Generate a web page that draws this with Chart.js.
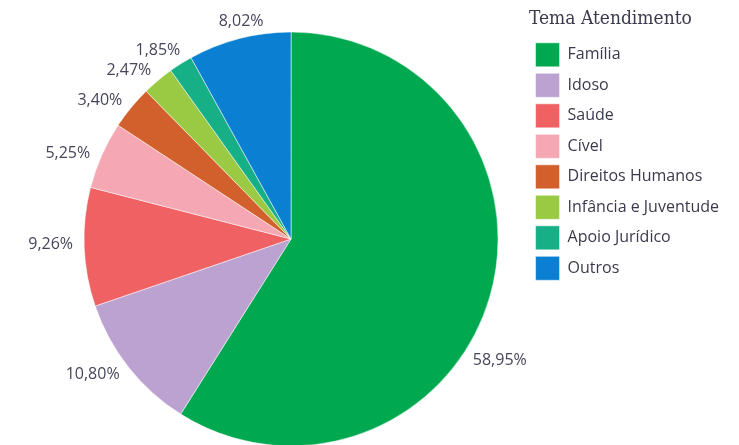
<!DOCTYPE html>
<html>
<head>
<meta charset="utf-8">
<script src="https://cdn.jsdelivr.net/npm/chart.js@4.4.1/dist/chart.umd.min.js"></script>
<style>
    html, body { margin: 0; padding: 0; background: #ffffff; overflow: hidden; }
    .chart_box { width: 739px; height: 473px; position: relative; }
</style>
</head>
<body>
<div class="chart_box"><canvas class="pie_canvas"></canvas></div>
<script>
const temas = ['Família', 'Idoso', 'Saúde', 'Cível', 'Direitos Humanos', 'Infância e Juventude', 'Apoio Jurídico', 'Outros'];
const percentuais = [58.95, 10.80, 9.26, 5.25, 3.40, 2.47, 1.85, 8.02];
const cores = ['#00A84F', '#BBA2D0', '#EF6163', '#F5A8B4', '#D2602C', '#9AC943', '#17B086', '#0B80D2'];

// rótulos de porcentagem fora das fatias
const rotulosPlugin = {
    id: 'rotulos',
    afterDatasetsDraw(chart, args, opts) {
        const ctx = chart.ctx;
        const meta = chart.getDatasetMeta(0);
        ctx.save();
        ctx.font = opts.font;
        ctx.fillStyle = opts.color;
        ctx.textAlign = 'center';
        ctx.textBaseline = 'middle';
        meta.data.forEach(function(arc, i) {
            const p = arc.getProps(['x', 'y', 'startAngle', 'endAngle', 'outerRadius'], true);
            const shift = (opts.shift[i] || 0) * Math.PI / 180;
            const ang = (p.startAngle + p.endAngle) / 2 + shift;
            const txt = percentuais[i].toFixed(2).replace('.', ',') + '%';
            const w = ctx.measureText(txt).width;
            const d = p.outerRadius + 11 + Math.abs(Math.cos(ang)) * w / 2;
            ctx.fillText(txt, p.x + Math.cos(ang) * d, p.y + Math.sin(ang) * d);
        });
        ctx.restore();
    }
};

const ctx = document.querySelector('.pie_canvas');
const pie_canvas = new Chart(ctx, {
    type: 'pie',
    data: {
        labels: temas,
        datasets: [{
            data: percentuais,
            backgroundColor: cores,
            borderColor: 'rgba(255,255,255,0.5)',
            borderWidth: 1,
            radius: 207
        }]
    },
    options: {
        responsive: true,
        maintainAspectRatio: false,
        animation: false,
        layout: {
            padding: { left: 53, right: 10, top: 5, bottom: 0 }
        },
        plugins: {
            tooltip: { enabled: false },
            legend: {
                position: 'right',
                align: 'start',
                title: {
                    display: true,
                    text: 'Tema Atendimento',
                    position: 'start',
                    color: '#3a3a4c',
                    font: { family: 'DejaVu Serif Condensed, DejaVu Serif, serif', size: 19 },
                    padding: { top: 4.5, bottom: 4 }
                },
                labels: {
                    boxWidth: 24,
                    boxHeight: 24,
                    padding: 6.5,
                    color: '#3a3a4c',
                    font: { family: 'Open Sans, sans-serif', size: 16 }
                }
            },
            rotulos: {
                font: '16px "Open Sans", sans-serif',
                color: '#46465a',
                shift: { 0: 14, 1: 4, 2: 1, 3: -3, 4: -3.5, 5: -4, 6: -3, 7: 1.5 }
            }
        }
    },
    plugins: [rotulosPlugin]
});
</script>
</body>
</html>
